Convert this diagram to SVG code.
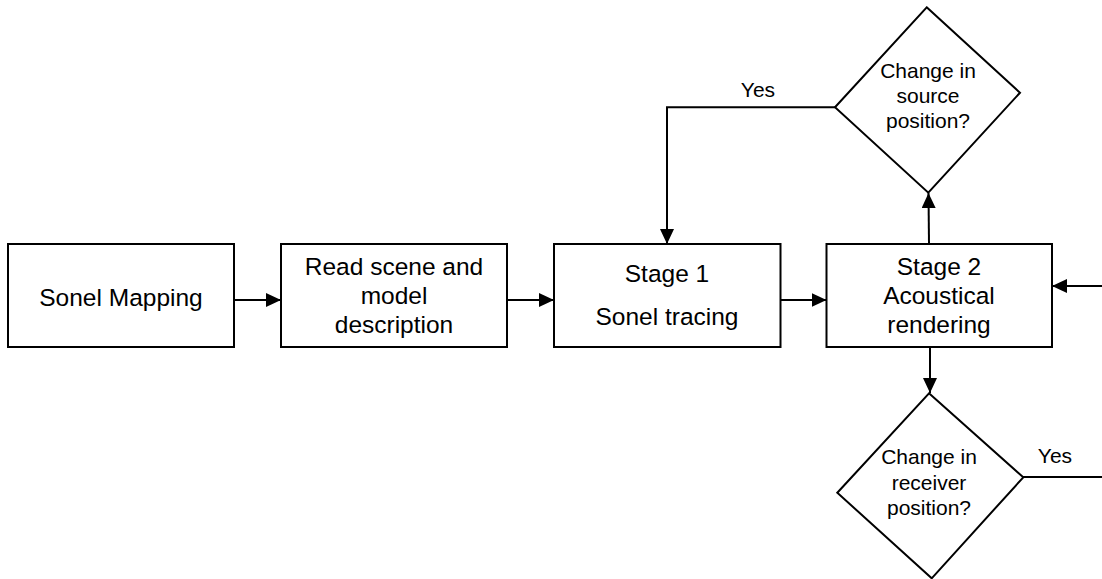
<svg xmlns="http://www.w3.org/2000/svg" width="1102" height="579" viewBox="0 0 1102 579">
<defs>
<style>
.box{fill:#fff;stroke:#000;stroke-width:2}
.t{font-family:"Liberation Sans",Arial,sans-serif;font-size:24.5px;fill:#000;text-anchor:middle}
.d{font-family:"Liberation Sans",Arial,sans-serif;font-size:21px;fill:#000;text-anchor:middle}
.c{fill:none;stroke:#000;stroke-width:2}
</style>
<marker id="ah" markerUnits="userSpaceOnUse" markerWidth="15" markerHeight="14" refX="15" refY="7" orient="auto">
<path d="M0,0 L15,7 L0,14 z" fill="#000"/>
</marker>
</defs>
<rect width="1102" height="579" fill="#fff"/>
<g id="connectors">
<line class="c" x1="234" y1="300" x2="281" y2="300" marker-end="url(#ah)"/>
<line class="c" x1="507" y1="300" x2="554" y2="300" marker-end="url(#ah)"/>
<line class="c" x1="780.5" y1="300" x2="826.5" y2="300" marker-end="url(#ah)"/>
<line class="c" x1="929" y1="244" x2="928.5" y2="193" marker-end="url(#ah)"/>
<path class="c" d="M835,107.3 L667,107.3 L667,244" marker-end="url(#ah)"/>
<line class="c" x1="930" y1="347" x2="930" y2="393" marker-end="url(#ah)"/>
<path class="c" d="M1023,477 L1112,477 L1112,286 L1052,286" marker-end="url(#ah)"/>
<text class="d" x="758" y="97">Yes</text>
<text class="d" x="1055" y="463">Yes</text>
</g>
<g id="n1">
<rect class="box" x="8" y="244" width="226" height="103"/>
<text class="t" x="121" y="306">Sonel Mapping</text>
</g>
<g id="n2">
<rect class="box" x="281" y="244" width="226" height="103"/>
<text class="t" x="394" y="275">Read scene and</text>
<text class="t" x="394" y="304">model</text>
<text class="t" x="394" y="333">description</text>
</g>
<g id="n3">
<rect class="box" x="554" y="244" width="226.5" height="103"/>
<text class="t" x="667" y="282">Stage 1</text>
<text class="t" x="667" y="325">Sonel tracing</text>
</g>
<g id="n4">
<rect class="box" x="826.5" y="244" width="225.5" height="103"/>
<text class="t" x="939" y="275">Stage 2</text>
<text class="t" x="939" y="304">Acoustical</text>
<text class="t" x="939" y="333">rendering</text>
</g>
<g id="d1">
<polygon class="box" points="926.7,7.3 1020,92.7 928.3,192.7 835,107.3"/>
<text class="d" x="928" y="77.5">Change in</text>
<text class="d" x="928" y="102.5">source</text>
<text class="d" x="928" y="127.5">position?</text>
</g>
<g id="d2">
<polygon class="box" points="929,393.3 1023.3,477.3 931.7,578.3 837.3,492.7"/>
<text class="d" x="929" y="464">Change in</text>
<text class="d" x="929" y="490">receiver</text>
<text class="d" x="929" y="515">position?</text>
</g>
</svg>
